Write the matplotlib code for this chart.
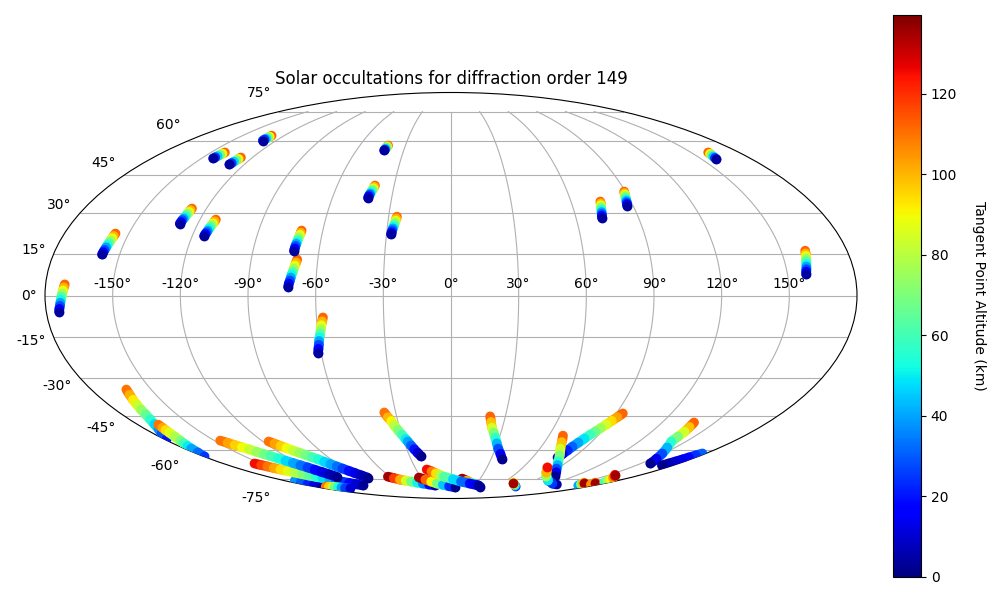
import numpy as np
import matplotlib
matplotlib.use("Agg")
import matplotlib.pyplot as plt
from matplotlib.cm import ScalarMappable
from matplotlib.collections import LineCollection
from matplotlib.colors import Normalize

TITLE = "Solar occultations for diffraction order 149"
CBAR_LABEL = "Tangent Point Altitude (km)"
CBAR_TICKS = [0, 20, 40, 60, 80, 100, 120]
ALT_MAX = 139.6

alt_ten = [112, 100, 88, 76, 64, 52, 40, 28, 16, 4]
alt_six = [112, 90, 68, 46, 24, 4]
alt_nine = [112, 98, 84, 70, 56, 42, 28, 14, 2]
alt_long = [110, 103, 96, 89, 82, 75, 68, 61, 54, 47, 40, 33, 26, 19, 12, 6, 2]

# (longitude deg, latitude deg, altitude km) read along each occultation
north_tracks = [
    ([-171.5,-171.8,-172.1,-172.4,-172.7,-173.0,-173.3,-173.6,-174.0,-174.3],
     [4.0,2.9,1.8,0.7,-0.4,-1.5,-2.6,-3.7,-4.8,-5.8], alt_ten),
    ([-156.2,-156.4,-156.6,-156.8,-157.0,-157.2,-157.4,-157.6,-157.8,-158.0],
     [22.5,21.6,20.8,19.9,19.1,18.2,17.4,16.5,15.7,14.8], alt_ten),
    ([-127.1,-127.3,-127.4,-127.6,-127.8,-127.9,-128.1,-128.3,-128.4,-128.6],
     [31.9,31.3,30.6,30.0,29.4,28.7,28.1,27.5,26.8,26.2], alt_ten),
    ([-112.4,-112.6,-112.9,-113.1,-113.3,-113.6,-113.8,-114.0,-114.3,-114.5],
     [27.7,27.0,26.3,25.7,25.0,24.3,23.6,22.9,22.3,21.6], alt_ten),
    ([-141.3,-141.6,-142.0,-142.3,-142.7,-143.0], [54.7,54.2,53.7,53.1,52.6,52.1], alt_six),
    ([-127.0,-127.3,-127.6,-128.0,-128.3,-128.6], [52.5,51.9,51.3,50.7,50.1,49.5], alt_six),
    ([-129.0,-129.0,-129.1,-129.1,-129.2,-129.2], [62.4,61.9,61.5,61.0,60.6,60.1], alt_six),
    ([-41.4,-41.6,-41.8,-42.0,-42.2,-42.4], [57.8,57.4,57.0,56.4,56.0,55.6], alt_six),
    ([-40.1,-40.3,-40.5,-40.7,-40.9,-41.2,-41.4,-41.6,-41.8,-42.0],
     [40.9,40.4,39.8,39.3,38.8,38.2,37.7,37.2,36.6,36.1], alt_ten),
    ([-69.3,-69.6,-70.0,-70.3,-70.6,-71.0,-71.3,-71.6,-72.0,-72.3],
     [13.0,11.9,10.8,9.7,8.6,7.6,6.5,5.4,4.3,3.2], alt_ten),
    ([-69.9,-70.1,-70.2,-70.4,-70.6,-70.7,-70.9,-71.1,-71.2,-71.4],
     [23.6,22.8,22.0,21.1,20.3,19.5,18.7,17.9,17.0,16.2], alt_ten),
    ([-26.0,-26.2,-26.4,-26.6,-26.8,-27.1,-27.3,-27.5,-27.7,-27.9],
     [28.8,28.1,27.3,26.6,25.9,25.1,24.4,23.7,22.9,22.2], alt_ten),
    ([-57.1,-57.6,-58.1,-58.5,-59.0,-59.5,-60.0,-60.4,-60.9,-61.4],
     [-7.9,-9.3,-10.7,-12.2,-13.6,-15.0,-16.4,-17.8,-19.3,-20.7], alt_ten),
    ([74.7,74.5,74.2,74.0,73.7,73.5,73.2,73.0,72.7,72.5],
     [34.6,33.9,33.2,32.5,31.8,31.2,30.5,29.8,29.1,28.4], alt_ten),
    ([89.4,89.1,88.9,88.6,88.4,88.1,87.9,87.6,87.4,87.1],
     [38.5,37.9,37.3,36.7,36.1,35.4,34.8,34.2,33.6,33.0], alt_ten),
    ([160.7,160.3,159.9,159.5,159.1,158.7], [54.7,54.1,53.5,52.9,52.3,51.7], alt_six),
    ([161.0,160.7,160.4,160.1,159.8,159.5,159.2,158.9,158.6,158.3],
     [16.2,15.2,14.3,13.3,12.4,11.4,10.5,9.5,8.6,7.6], alt_ten),
]

south_tracks = [
    ([-162.4,-163.3,-164.3,-165.2,-166.2,-167.0,-168.3,-170.0,-172.0,-175.0,-178.2],
     [-34.6,-36.6,-38.6,-40.6,-42.6,-44.5,-46.5,-48.5,-50.5,-52.5,-54.7],
     [110,101,92,83,74,65,56,47,38,29,20]),
    ([-168.2,-168.6,-169.0,-169.4,-170.3,-171.6,-172.8,-174.0,-175.3,-177.0,-179.5],
     [-48.7,-50.0,-51.0,-52.1,-53.8,-55.6,-56.7,-58.0,-59.2,-61.0,-62.9],
     [110,102,94,86,78,70,60,50,40,32,25]),
    ([-168.7,-169.2,-169.7,-170.2,-170.7], [-75.7,-76.6,-77.6,-78.5,-79.4], [38,30,22,12,3]),
    ([-155.2,-153.1,-151.0,-149.0,-146.9,-144.2,-141.6,-139.0,-136.3,-133.3,-130.3,-127.3,-124.3,-120.9,-117.6,-114.2,-110.8],
     [-66.4,-67.2,-67.9,-68.7,-69.5,-70.3,-71.1,-72.0,-72.8,-73.5,-74.2,-75.0,-75.7,-76.4,-77.1,-77.9,-78.7],
     [125,117,110,102,94,87,79,71,64,56,48,41,33,25,17,10,3]),
    ([-146.3,-144.0,-141.8,-139.5,-137.3,-135.1,-132.9,-130.7,-128.5,-126.3,-124.0,-121.8,-119.6,-117.8,-116.0,-114.1,-112.3],
     [-55.6,-56.6,-57.6,-58.6,-59.6,-60.7,-61.8,-62.8,-63.9,-65.0,-66.1,-67.3,-68.4,-69.6,-70.8,-72.1,-73.4],
     alt_long),
    ([-116.4,-114.5,-112.5,-110.6,-108.6,-106.4,-104.2,-102.0,-99.9,-98.0,-96.0,-94.0,-92.1,-90.0,-88.0,-85.8,-83.6],
     [-56.0,-57.0,-58.0,-59.0,-60.1,-61.1,-62.2,-63.3,-64.3,-65.5,-66.7,-67.9,-69.0,-70.2,-71.4,-72.7,-73.9],
     alt_long),
    ([-164.1,-161.0,-158.0,-156.0,-153.7,-151.0,-148.0,-144.4],
     [-79.4,-79.5,-79.7,-79.8,-80.0,-80.2,-80.4,-80.7], [110,96,82,68,54,40,26,10]),
    ([-36.2,-35.0,-33.7,-32.8,-31.4,-29.9,-28.5,-27.6,-26.3,-25.0,-23.4,-21.8],
     [-43.7,-45.7,-47.2,-49.0,-51.0,-53.0,-54.9,-56.0,-57.8,-59.5,-61.2,-62.9],
     [110,100,90,80,70,60,50,40,30,20,10,2]),
    ([-62.0,-58.0,-53.8,-49.0,-44.3,-38.7,-33.1,-26.7,-20.2],
     [-73.4,-74.2,-75.1,-75.7,-76.3,-76.9,-77.5,-78.1,-78.7],
     [135,118,101,85,68,51,35,18,2]),
    ([-32.2,-27.0,-22.0,-16.5,-10.0,-2.5,5.4], [-73.9,-75.1,-76.3,-77.5,-78.3,-79.2,-80.0],
     [135,112,90,68,45,23,2]),
    ([11.3,17.0,23.0,30.0,38.4], [-74.5,-75.7,-76.9,-78.1,-79.4], [135,102,68,35,3]),
    ([-20.9,-17.3,-13.9,-10.4,-6.9,2.0,11.1,22.0,34.0],
     [-69.5,-70.5,-71.5,-72.5,-73.4,-74.9,-76.3,-77.5,-78.7],
     [125,109,94,78,63,47,32,16,3]),
    ([21.6,22.7,23.9,25.7,27.5,29.6,31.8,35.0,38.3],
     [-45.3,-47.6,-50.0,-52.2,-54.3,-56.8,-59.2,-61.7,-64.3], alt_nine),
    ([84.7,81.0,76.0,71.4], [-79.4,-78.8,-78.0,-76.9], [20,50,90,135]),
    ([93.6,92.1,90.6,89.2,87.7,86.3,84.8,83.4,82.0,80.7,79.9,79.1,78.3],
     [-44.1,-45.6,-47.1,-48.7,-50.1,-51.6,-53.0,-54.7,-56.5,-58.3,-60.0,-61.7,-63.4],
     [112,103,94,85,76,67,58,49,40,31,22,12,2]),
    ([68.6,71.0,73.8,78.0,82.5,86.0,89.5,94.6,99.8],
     [-53.4,-56.3,-59.2,-62.3,-65.4,-67.2,-69.0,-70.9,-72.8], alt_nine),
    ([128.7,119.4,104.9,93.6,86.5,80.3], [-78.1,-77.5,-75.7,-73.4,-71.2,-68.4], [5,25,50,75,100,125]),
    ([159.9,157.0,154.5,152.0], [-78.7,-78.0,-77.4,-76.9], [40,70,100,135]),
    ([170.0,164.7], [-78.1,-76.9], [105,135]),
    ([175.0,171.0,167.0,163.0,158.8,154.7], [-76.9,-76.0,-75.0,-74.0,-73.1,-72.3], [60,75,90,105,120,135]),
    ([138.1,138.8,139.6,140.0,140.6,144.6,149.2,153.2,157.5],
     [-47.8,-49.7,-51.7,-53.8,-56.0,-58.7,-61.5,-64.0,-66.4], alt_nine),
    ([177.5,176.2,175.0,174.0,173.0,172.0,171.0],
     [-61.5,-62.4,-63.4,-64.4,-65.4,-66.4,-67.4], [30,24,18,14,10,6,2]),
]

fig = plt.figure(figsize=(10, 6), dpi=100)
ax = fig.add_axes([0.045, 1 - 498.5 / 600, 0.812, 406 / 600], projection="mollweide")
norm = Normalize(vmin=0, vmax=ALT_MAX)
cmap = plt.get_cmap("jet")
for i, (lon, lat, alt) in enumerate(north_tracks + south_tracks):
    pts = np.column_stack([np.radians(lon), np.radians(lat)])
    alts = np.asarray(alt, dtype=float)
    segs = np.stack([pts[:-1], pts[1:]], axis=1)
    # each read point colours the stretch of track that leads away from it
    lc = LineCollection(segs, array=alts[:-1], cmap=cmap, norm=norm,
                        linewidths=7.0, capstyle="round", zorder=3 + i * 0.01)
    ax.add_collection(lc)
    # the last read point of the track has no stretch of its own
    ax.scatter(pts[-1:, 0], pts[-1:, 1], c=alts[-1:], s=50, cmap=cmap, norm=norm,
               linewidths=0, zorder=3 + i * 0.01)
ax.grid(True)
ax.set_title(TITLE)

cax = fig.add_axes([0.893, 1 - 577 / 600, 0.028, 562 / 600])
cbar = fig.colorbar(ScalarMappable(norm=norm, cmap=cmap), cax=cax)
cbar.set_ticks(CBAR_TICKS)
cbar.set_label(CBAR_LABEL, rotation=270, labelpad=21)

fig.savefig("out.png", dpi=100)
